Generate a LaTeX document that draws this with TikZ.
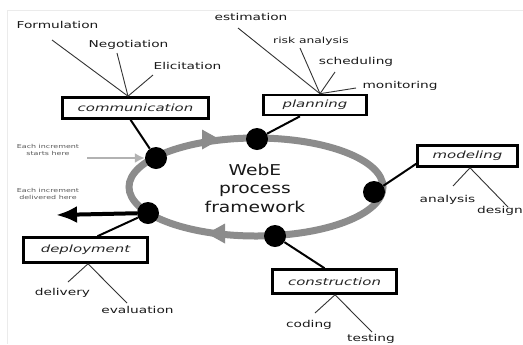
\documentclass[tikz,border=0pt]{standalone}
\usepackage{fontspec}
\usetikzlibrary{arrows.meta}
% widened sans faces for the labels
\newfontfamily\leaffont[FakeStretch=1.45]{DejaVu Sans}
\newfontfamily\actfont[FakeStretch=1.5]{DejaVu Sans Oblique}
\newfontfamily\hubfont[FakeStretch=1.25]{DejaVu Sans}
\begin{document}
\begin{tikzpicture}[x=1bp,y=-1bp,
  activity/.style={draw=black, line width=2.6bp, fill=white, inner sep=0pt,
    font=\actfont\fontsize{10}{12}\selectfont, text=black!85},
  task/.style={inner sep=0pt, font=\leaffont\fontsize{9.5}{11}\selectfont, text=black!90},
  note/.style={inner sep=0pt, align=center, font=\leaffont\fontsize{5.5}{7.5}\selectfont, text=black!65},
  hub/.style={circle, fill=black, minimum size=22bp, inner sep=0pt},
  link/.style={line width=2bp},
  leaf/.style={line width=0.9bp, draw=black!80},
  ringcol/.style={black!45},
]
\useasboundingbox (0,0) rectangle (523,344);
\fill[white] (0,0) rectangle (523,344);
\draw[black!8, line width=1bp] (7,344) -- (7,10) -- (523,10);

% process ring
\draw[ringcol, line width=7bp] (256,187) ellipse [x radius=127bp, y radius=49bp];
\fill[ringcol] (202,129.5) -- (220,139.5) -- (202,149.5) -- cycle;
\fill[ringcol] (225,223.5) -- (207,233.5) -- (225,243.5) -- cycle;

\node[align=center, inner sep=0pt, font=\hubfont\fontsize{15}{18.5}\selectfont, text=black!90]
  (hubtext) at (255,188) {WebE\\process\\framework};

% framework activities
\node[hub] (dcomm) at (156,158) {};
\node[hub] (dplan) at (257,139) {};
\node[hub] (dmodel) at (374,192) {};
\node[hub] (dconstr) at (275,236) {};
\node[hub] (ddeploy) at (148,213) {};

\node[activity, minimum width=146bp, minimum height=21bp] (comm) at (135.5,108) {communication};
\node[activity, minimum width=103bp, minimum height=20bp] (plan) at (315,105) {planning};
\node[activity, minimum width=100bp, minimum height=21bp] (model) at (467.5,156) {modeling};
\node[activity, minimum width=124bp, minimum height=24bp] (constr) at (334.5,281.5) {construction};
\node[activity, minimum width=124bp, minimum height=25bp] (deploy) at (85.5,250) {deployment};

\draw[link] (dcomm) -- ([xshift=-5bp]comm.south);
\draw[link] (dplan) -- ([xshift=-15bp]plan.south);
\draw[link] (dmodel) -- ([yshift=4bp]model.south west);
\draw[link] (dconstr) -- ([xshift=-10bp]constr.north);
\draw[link] (ddeploy) -- ([xshift=12bp]deploy.north);

% tasks of each activity
\node[task] (formulation) at (57.5,25) {Formulation};
\node[task] (negotiation) at (128.5,45) {Negotiation};
\node[task] (elicitation) at (187.5,66) {Elicitation};
\coordinate (formEnd) at (52,40);
\coordinate (negoEnd) at (117,53);
\coordinate (eliEnd) at (153,75);
\draw[leaf] ([xshift=-7.5bp]comm.north) -- (formEnd);
\draw[leaf] ([xshift=-7.5bp]comm.north) -- (negoEnd);
\draw[leaf] ([xshift=-7.5bp]comm.north) -- (eliEnd);

\node[task] (estimation) at (251,17) {estimation};
\node[task, font=\leaffont\fontsize{8.5}{10}\selectfont] (risk) at (311,41) {risk analysis};
\node[task] (scheduling) at (356,62) {scheduling};
\node[task] (monitoring) at (400,86) {monitoring};
\coordinate (estEnd) at (238,28);
\coordinate (riskEnd) at (300,48);
\coordinate (schedEnd) at (335,72);
\coordinate (monEnd) at (356,88);
\draw[leaf] ([xshift=5bp]plan.north) -- (estEnd);
\draw[leaf] ([xshift=5bp]plan.north) -- (riskEnd);
\draw[leaf] ([xshift=5bp]plan.north) -- (schedEnd);
\draw[leaf] ([xshift=5bp]plan.north) -- (monEnd);

\node[task] (analysis) at (447.5,200) {analysis};
\node[task] (design) at (500,211) {design};
\coordinate (anaEnd) at (453,186);
\coordinate (desEnd) at (508,207);
\draw[leaf] ([xshift=2.5bp]model.south) -- (anaEnd);
\draw[leaf] ([xshift=2.5bp]model.south) -- (desEnd);

\node[task] (coding) at (309,325) {coding};
\node[task] (testing) at (371,339) {testing};
\coordinate (codEnd) at (315,313);
\coordinate (tesEnd) at (372,332);
\draw[leaf] ([xshift=0.5bp]constr.south) -- (codEnd);
\draw[leaf] ([xshift=0.5bp]constr.south) -- (tesEnd);

\node[task] (delivery) at (62.5,293) {delivery};
\node[task] (evaluation) at (137.5,310) {evaluation};
\coordinate (delEnd) at (68,282);
\coordinate (evaEnd) at (127,303);
\draw[leaf] ([xshift=2.5bp]deploy.south) -- (delEnd);
\draw[leaf] ([xshift=2.5bp]deploy.south) -- (evaEnd);

% increment entry and delivery
\node[note] (startsnote) at (48,150) {Each increment\\starts here};
\node[note] (delivnote) at (48,194) {Each increment\\delivered here};
\coordinate (startTail) at (87,158);
\coordinate (delivTip) at (56,215);
\draw[black!30, line width=2.8bp, -{Latex[length=10bp,width=10bp]}] (startTail) -- (dcomm);
\draw[line width=4bp, -{Latex[length=21bp,width=17bp]}] (ddeploy) -- (delivTip);
\end{tikzpicture}
\end{document}
